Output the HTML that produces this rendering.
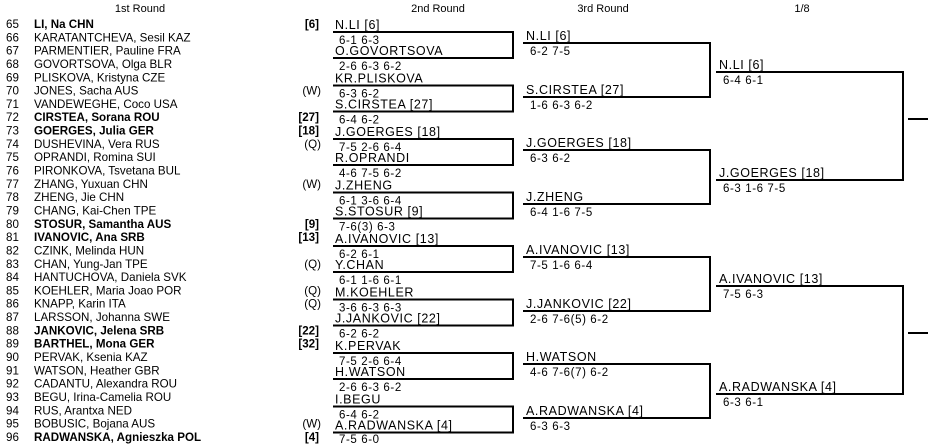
<!DOCTYPE html>
<html><head><meta charset="utf-8"><style>
html,body{margin:0;padding:0;background:#fff;width:928px;height:445px;overflow:hidden}
svg{display:block}
text{font-family:"Liberation Sans",Arial,sans-serif;fill:#000}
.l{font-size:11.6px}
.b{font-weight:bold}
.n{font-size:12.5px;letter-spacing:0.6px}
.s{font-size:11.5px;letter-spacing:0.6px}
.h{font-size:11px}
</style></head><body>
<svg width="928" height="445" viewBox="0 0 928 445" xmlns="http://www.w3.org/2000/svg">
<g class="h">
<text x="140" y="12" text-anchor="middle">1st Round</text>
<text x="438" y="12" text-anchor="middle">2nd Round</text>
<text x="603" y="12" text-anchor="middle">3rd Round</text>
<text x="802" y="12" text-anchor="middle">1/8</text>
</g>
<g class="l">
<text y="28"><tspan x="6">65</tspan><tspan x="34" class="b">LI, Na CHN</tspan><tspan x="319" text-anchor="end" class="b">[6]</tspan></text>
<text y="41.3"><tspan x="6">66</tspan><tspan x="34">KARATANTCHEVA, Sesil KAZ</tspan></text>
<text y="54.6"><tspan x="6">67</tspan><tspan x="34">PARMENTIER, Pauline FRA</tspan></text>
<text y="68"><tspan x="6">68</tspan><tspan x="34">GOVORTSOVA, Olga BLR</tspan></text>
<text y="81.3"><tspan x="6">69</tspan><tspan x="34">PLISKOVA, Kristyna CZE</tspan></text>
<text y="94.6"><tspan x="6">70</tspan><tspan x="34">JONES, Sacha AUS</tspan><tspan x="321" text-anchor="end">(W)</tspan></text>
<text y="107.9"><tspan x="6">71</tspan><tspan x="34">VANDEWEGHE, Coco USA</tspan></text>
<text y="121.2"><tspan x="6">72</tspan><tspan x="34" class="b">CIRSTEA, Sorana ROU</tspan><tspan x="319" text-anchor="end" class="b">[27]</tspan></text>
<text y="134.6"><tspan x="6">73</tspan><tspan x="34" class="b">GOERGES, Julia GER</tspan><tspan x="319" text-anchor="end" class="b">[18]</tspan></text>
<text y="147.9"><tspan x="6">74</tspan><tspan x="34">DUSHEVINA, Vera RUS</tspan><tspan x="321" text-anchor="end">(Q)</tspan></text>
<text y="161.2"><tspan x="6">75</tspan><tspan x="34">OPRANDI, Romina SUI</tspan></text>
<text y="174.5"><tspan x="6">76</tspan><tspan x="34">PIRONKOVA, Tsvetana BUL</tspan></text>
<text y="187.8"><tspan x="6">77</tspan><tspan x="34">ZHANG, Yuxuan CHN</tspan><tspan x="321" text-anchor="end">(W)</tspan></text>
<text y="201.2"><tspan x="6">78</tspan><tspan x="34">ZHENG, Jie CHN</tspan></text>
<text y="214.5"><tspan x="6">79</tspan><tspan x="34">CHANG, Kai-Chen TPE</tspan></text>
<text y="227.8"><tspan x="6">80</tspan><tspan x="34" class="b">STOSUR, Samantha AUS</tspan><tspan x="319" text-anchor="end" class="b">[9]</tspan></text>
<text y="241.1"><tspan x="6">81</tspan><tspan x="34" class="b">IVANOVIC, Ana SRB</tspan><tspan x="319" text-anchor="end" class="b">[13]</tspan></text>
<text y="254.4"><tspan x="6">82</tspan><tspan x="34">CZINK, Melinda HUN</tspan></text>
<text y="267.8"><tspan x="6">83</tspan><tspan x="34">CHAN, Yung-Jan TPE</tspan><tspan x="321" text-anchor="end">(Q)</tspan></text>
<text y="281.1"><tspan x="6">84</tspan><tspan x="34">HANTUCHOVA, Daniela SVK</tspan></text>
<text y="294.4"><tspan x="6">85</tspan><tspan x="34">KOEHLER, Maria Joao POR</tspan><tspan x="321" text-anchor="end">(Q)</tspan></text>
<text y="307.7"><tspan x="6">86</tspan><tspan x="34">KNAPP, Karin ITA</tspan><tspan x="321" text-anchor="end">(Q)</tspan></text>
<text y="321"><tspan x="6">87</tspan><tspan x="34">LARSSON, Johanna SWE</tspan></text>
<text y="334.4"><tspan x="6">88</tspan><tspan x="34" class="b">JANKOVIC, Jelena SRB</tspan><tspan x="319" text-anchor="end" class="b">[22]</tspan></text>
<text y="347.7"><tspan x="6">89</tspan><tspan x="34" class="b">BARTHEL, Mona GER</tspan><tspan x="319" text-anchor="end" class="b">[32]</tspan></text>
<text y="361"><tspan x="6">90</tspan><tspan x="34">PERVAK, Ksenia KAZ</tspan></text>
<text y="374.3"><tspan x="6">91</tspan><tspan x="34">WATSON, Heather GBR</tspan></text>
<text y="387.6"><tspan x="6">92</tspan><tspan x="34">CADANTU, Alexandra ROU</tspan></text>
<text y="401"><tspan x="6">93</tspan><tspan x="34">BEGU, Irina-Camelia ROU</tspan></text>
<text y="414.3"><tspan x="6">94</tspan><tspan x="34">RUS, Arantxa NED</tspan></text>
<text y="427.6"><tspan x="6">95</tspan><tspan x="34">BOBUSIC, Bojana AUS</tspan><tspan x="321" text-anchor="end">(W)</tspan></text>
<text y="440.9"><tspan x="6">96</tspan><tspan x="34" class="b">RADWANSKA, Agnieszka POL</tspan><tspan x="319" text-anchor="end" class="b">[4]</tspan></text>
</g>
<g fill="none" stroke="#000" stroke-width="2">
<path d="M333 32H513V58H333"/>
<path d="M333 85.5H513V111.5H333"/>
<path d="M333 139H513V165H333"/>
<path d="M333 192.5H513V218.5H333"/>
<path d="M333 246H513V272H333"/>
<path d="M333 299.5H513V325.5H333"/>
<path d="M333 353H513V379H333"/>
<path d="M333 406.5H513V432.5H333"/>
<path d="M523 43H710V97H523"/>
<path d="M523 150H710V204H523"/>
<path d="M523 257H710V311H523"/>
<path d="M523 364H710V418H523"/>
<path d="M716 72H903V180H716"/>
<path d="M716 286H903V394H716"/>
<path d="M908 119H928"/>
<path d="M908 333H928"/>
</g>
<g>
<text class="n" x="335" y="29">N.LI [6]</text><text class="s" x="339" y="44">6-1 6-3</text>
<text class="n" x="335" y="55">O.GOVORTSOVA</text><text class="s" x="339" y="70">2-6 6-3 6-2</text>
<text class="n" x="335" y="82.5">KR.PLISKOVA</text><text class="s" x="339" y="97.5">6-3 6-2</text>
<text class="n" x="335" y="108.5">S.CIRSTEA [27]</text><text class="s" x="339" y="123.5">6-4 6-2</text>
<text class="n" x="335" y="136">J.GOERGES [18]</text><text class="s" x="339" y="151">7-5 2-6 6-4</text>
<text class="n" x="335" y="162">R.OPRANDI</text><text class="s" x="339" y="177">4-6 7-5 6-2</text>
<text class="n" x="335" y="189.5">J.ZHENG</text><text class="s" x="339" y="204.5">6-1 3-6 6-4</text>
<text class="n" x="335" y="215.5">S.STOSUR [9]</text><text class="s" x="339" y="230.5">7-6(3) 6-3</text>
<text class="n" x="335" y="243">A.IVANOVIC [13]</text><text class="s" x="339" y="258">6-2 6-1</text>
<text class="n" x="335" y="269">Y.CHAN</text><text class="s" x="339" y="284">6-1 1-6 6-1</text>
<text class="n" x="335" y="296.5">M.KOEHLER</text><text class="s" x="339" y="311.5">3-6 6-3 6-3</text>
<text class="n" x="335" y="322.5">J.JANKOVIC [22]</text><text class="s" x="339" y="337.5">6-2 6-2</text>
<text class="n" x="335" y="350">K.PERVAK</text><text class="s" x="339" y="365">7-5 2-6 6-4</text>
<text class="n" x="335" y="376">H.WATSON</text><text class="s" x="339" y="391">2-6 6-3 6-2</text>
<text class="n" x="335" y="403.5">I.BEGU</text><text class="s" x="339" y="418.5">6-4 6-2</text>
<text class="n" x="335" y="429.5">A.RADWANSKA [4]</text><text class="s" x="339" y="443">7-5 6-0</text>

<text class="n" x="526" y="40">N.LI [6]</text><text class="s" x="530" y="55">6-2 7-5</text>
<text class="n" x="526" y="94">S.CIRSTEA [27]</text><text class="s" x="530" y="109">1-6 6-3 6-2</text>
<text class="n" x="526" y="147">J.GOERGES [18]</text><text class="s" x="530" y="162">6-3 6-2</text>
<text class="n" x="526" y="201">J.ZHENG</text><text class="s" x="530" y="216">6-4 1-6 7-5</text>
<text class="n" x="526" y="254">A.IVANOVIC [13]</text><text class="s" x="530" y="269">7-5 1-6 6-4</text>
<text class="n" x="526" y="308">J.JANKOVIC [22]</text><text class="s" x="530" y="323">2-6 7-6(5) 6-2</text>
<text class="n" x="526" y="361">H.WATSON</text><text class="s" x="530" y="376">4-6 7-6(7) 6-2</text>
<text class="n" x="526" y="415">A.RADWANSKA [4]</text><text class="s" x="530" y="430">6-3 6-3</text>

<text class="n" x="719" y="69">N.LI [6]</text><text class="s" x="723" y="84">6-4 6-1</text>
<text class="n" x="719" y="177">J.GOERGES [18]</text><text class="s" x="723" y="192">6-3 1-6 7-5</text>
<text class="n" x="719" y="283">A.IVANOVIC [13]</text><text class="s" x="723" y="298">7-5 6-3</text>
<text class="n" x="719" y="391">A.RADWANSKA [4]</text><text class="s" x="723" y="406">6-3 6-1</text>
</g>
</svg>
</body></html>
